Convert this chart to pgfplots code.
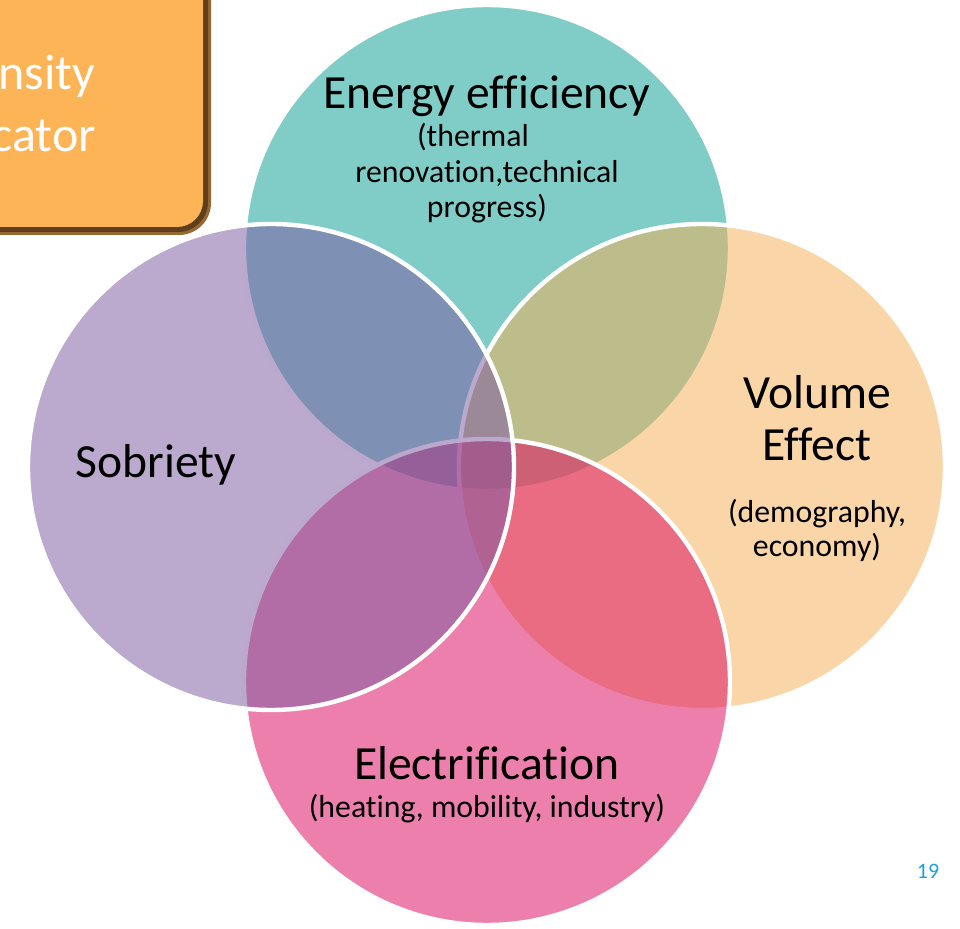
\documentclass[border=0pt]{standalone}
\usepackage{pgfplots}
\pgfplotsset{compat=1.18}
\usepackage{fontspec}
\setmainfont{Carlito}[Ligatures=NoCommon]
% base colours, painted at 53% opacity
\definecolor{cTeal}{RGB}{15,160,151}
\definecolor{cLav}{RGB}{126,92,162}
\definecolor{cPeach}{RGB}{244,176,89}
\definecolor{cPink}{RGB}{221,14,98}
\definecolor{cOrange}{RGB}{253,180,86}
\definecolor{cEdge}{RGB}{150,105,50}
\definecolor{cEdgeD}{RGB}{95,62,25}
\definecolor{cNum}{RGB}{30,160,218}
\newcommand{\bigtxt}{\fontsize{23.8}{26}\selectfont}
\newcommand{\smltxt}{\fontsize{15.9}{18}\selectfont}
\begin{document}
\begin{tikzpicture}
\begin{axis}[
    x=0.5pt, y=0.5pt, y dir=reverse,
    xmin=0, xmax=960, ymin=0, ymax=929,
    hide axis, clip=true,
    circ/.style={only marks, mark=*, mark size=121.5pt,
        mark options={fill=#1, draw=none}},
    ring/.style={only marks, mark=o, mark size=121.5pt,
        mark options={draw=white, line width=2.2pt}}
]
\coordinate (bl) at (axis cs:0,929);
\coordinate (tr) at (axis cs:960,0);
% title box, cut by the slide edge
\fill[cEdge, rounded corners=16pt] (axis cs:-250,-60) rectangle (axis cs:211,235);
\fill[cEdgeD, rounded corners=15pt] (axis cs:-250,-60) rectangle (axis cs:208,232);
\fill[cOrange, rounded corners=13pt] (axis cs:-250,-60) rectangle (axis cs:203,227);
\node[anchor=base east, text=white, font=\fontsize{25}{28}\selectfont] at (axis cs:102,90) {Intensity};
\node[anchor=base east, text=white, font=\fontsize{25}{28}\selectfont] at (axis cs:103,152) {indicator};
% circles: top, right, bottom, left
\addplot[circ=cTeal, opacity=0.53] coordinates {(487,248)};
\addplot[ring] coordinates {(487,248)};
\addplot[circ=cPeach, opacity=0.53] coordinates {(702,467)};
\addplot[ring] coordinates {(702,467)};
\addplot[circ=cPink, opacity=0.53] coordinates {(487,682)};
\addplot[ring] coordinates {(487,682)};
\addplot[circ=cLav, opacity=0.53] coordinates {(271,467)};
\addplot[ring] coordinates {(271,467)};
% label anchors
\coordinate (e1) at (axis cs:487,109);
\coordinate (e2) at (axis cs:473,147);
\coordinate (e3) at (axis cs:487,183);
\coordinate (e4) at (axis cs:487,218);
\coordinate (v1) at (axis cs:817,409);
\coordinate (v2) at (axis cs:817,461);
\coordinate (v3) at (axis cs:817,523);
\coordinate (v4) at (axis cs:817,557);
\coordinate (s1) at (axis cs:156,478);
\coordinate (l1) at (axis cs:487,780);
\coordinate (l2) at (axis cs:487,818);
\coordinate (pg) at (axis cs:928,879);
\end{axis}
\node[anchor=base, font=\bigtxt] at (e1) {Energy efficiency};
\node[anchor=base, font=\smltxt] at (e2) {(thermal};
\node[anchor=base, font=\smltxt] at (e3) {renovation,technical};
\node[anchor=base, font=\smltxt] at (e4) {progress)};
\node[anchor=base, font=\bigtxt] at (v1) {Volume};
\node[anchor=base, font=\bigtxt] at (v2) {Effect};
\node[anchor=base, font=\smltxt] at (v3) {(demography,};
\node[anchor=base, font=\smltxt] at (v4) {economy)};
\node[anchor=base, font=\bigtxt] at (s1) {Sobriety};
\node[anchor=base, font=\bigtxt] at (l1) {Electrification};
\node[anchor=base, font=\smltxt] at (l2) {(heating, mobility, industry)};
\node[anchor=base, text=cNum, font=\fontsize{11}{13}\selectfont] at (pg) {19};
\pgfresetboundingbox
\useasboundingbox (bl) rectangle (tr);
\end{tikzpicture}
\end{document}
